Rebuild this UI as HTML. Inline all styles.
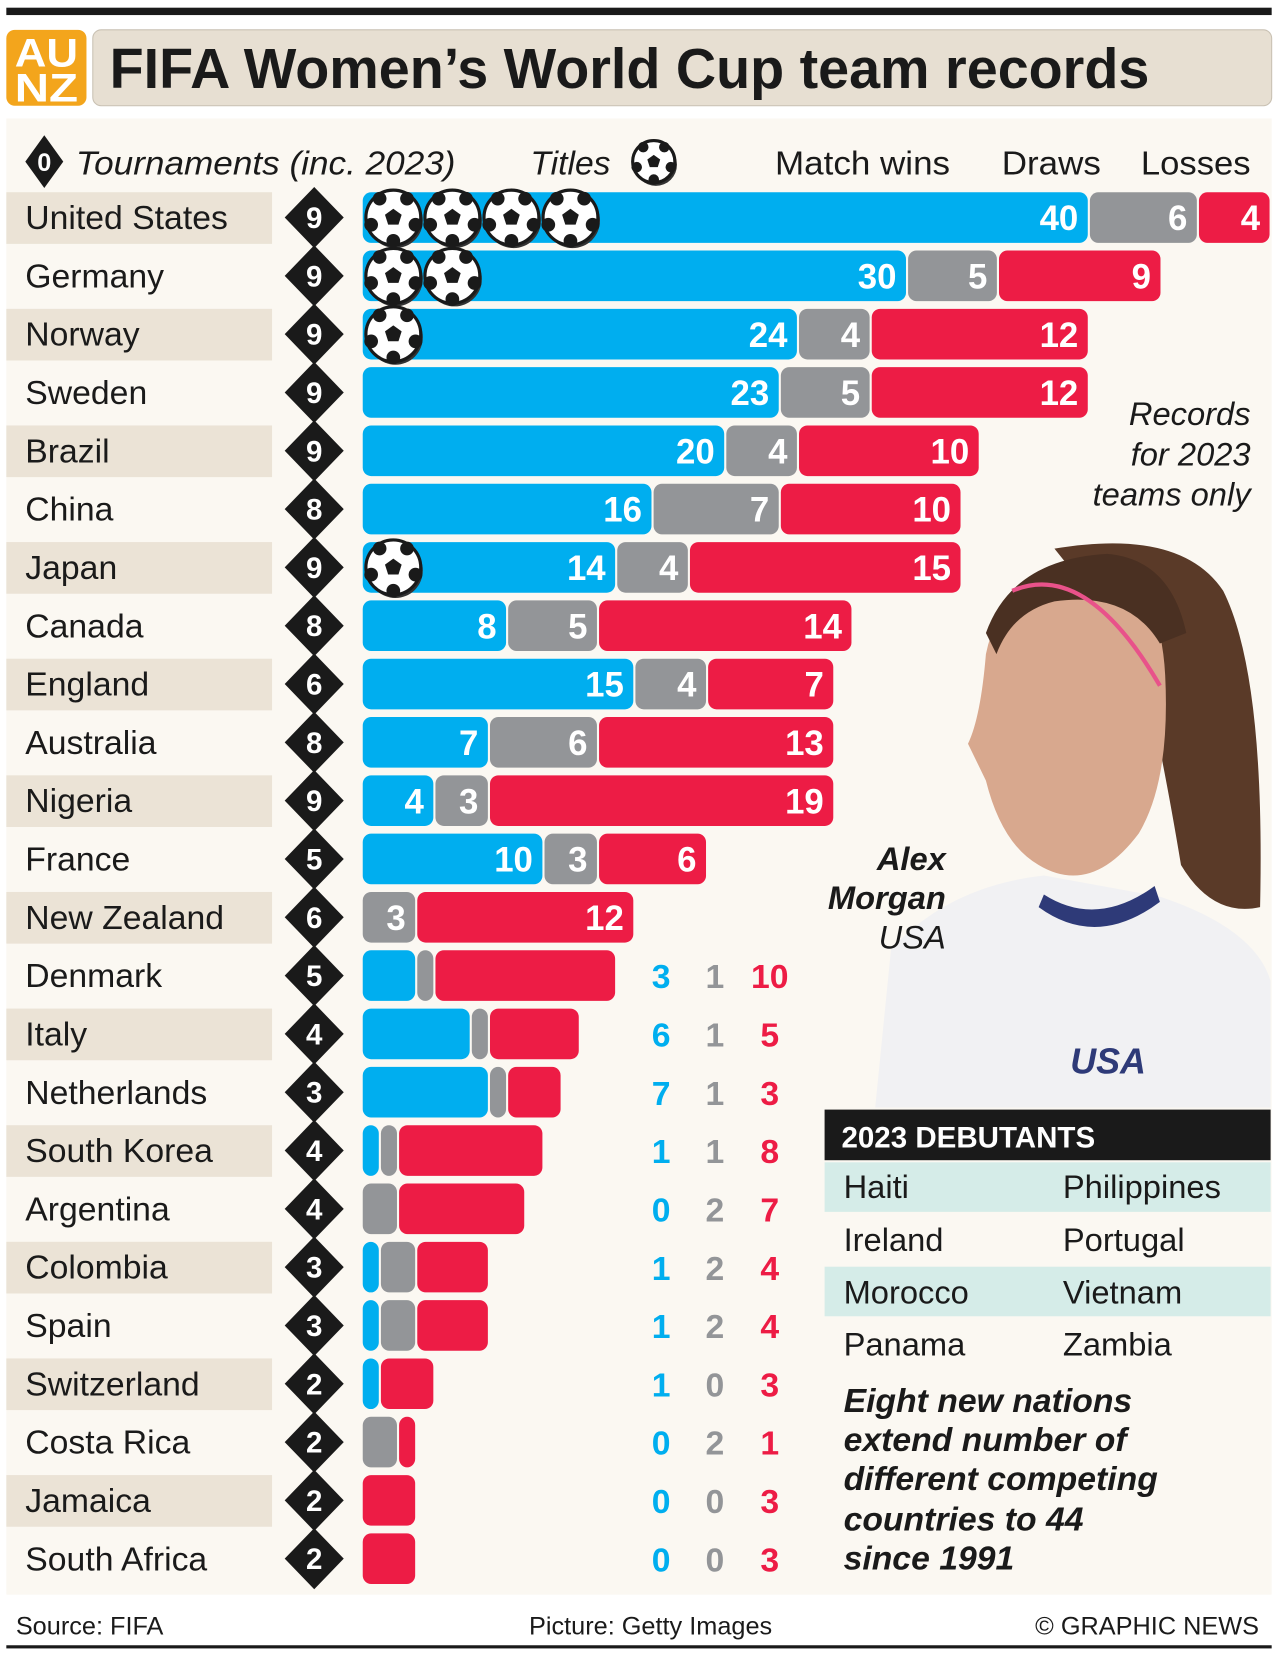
<!DOCTYPE html>
<html><head><meta charset="utf-8"><style>
html,body{margin:0;padding:0;background:#fff}
svg{display:block}
text{font-family:"Liberation Sans",sans-serif}
</style></head><body>
<svg id="chart" width="1278" height="1654" viewBox="0 0 1212 1568" xmlns="http://www.w3.org/2000/svg">
<rect x="6" y="7" width="1200" height="7" fill="#1a1a1a"/>
<rect x="6" y="112" width="1200" height="1400" fill="#fbf8f2"/>
<g>
<rect x="6" y="28" width="76" height="72" rx="8" fill="#f3a51c"/>
<text x="44" y="63" text-anchor="middle" font-size="38" font-weight="bold" fill="#fff" textLength="60" lengthAdjust="spacingAndGlyphs">AU</text>
<text x="44" y="96" text-anchor="middle" font-size="38" font-weight="bold" fill="#fff" textLength="60" lengthAdjust="spacingAndGlyphs">NZ</text>
</g>
<rect x="88" y="28" width="1118" height="72" rx="8" fill="#e7dfd2" stroke="#c9c1b3"/>
<text x="104" y="83" font-size="54" font-weight="bold" fill="#1a1a1a" textLength="986" lengthAdjust="spacingAndGlyphs">FIFA Women’s World Cup team records</text>
<g>
<path d="M42 128 L60 153 L42 178 L24 153 Z" fill="#1a1a1a"/>
<text x="42" y="162" text-anchor="middle" font-size="24" font-weight="bold" fill="#fff">0</text>
<text x="72" y="165" font-size="32" font-style="italic" fill="#1a1a1a" textLength="360" lengthAdjust="spacingAndGlyphs">Tournaments (inc. 2023)</text>
<text x="503" y="165" font-size="32" font-style="italic" fill="#1a1a1a" textLength="76" lengthAdjust="spacingAndGlyphs">Titles</text>
<text x="735" y="165" font-size="32" fill="#1a1a1a" textLength="166" lengthAdjust="spacingAndGlyphs">Match wins</text>
<text x="950" y="165" font-size="32" fill="#1a1a1a" textLength="94" lengthAdjust="spacingAndGlyphs">Draws</text>
<text x="1082" y="165" font-size="32" fill="#1a1a1a" textLength="104" lengthAdjust="spacingAndGlyphs">Losses</text>
</g>
<g id="photo">
<path d="M830 1050 L845 900 Q900 840 990 830 L1100 850 Q1190 880 1205 930 L1205 1050 Z" fill="#f1f1f3"/>
<path d="M985 860 Q1040 900 1100 855 L1095 840 Q1040 880 990 848 Z" fill="#2e3a78"/>
<path d="M1000 520 Q1120 500 1160 560 Q1200 640 1195 860 Q1150 870 1120 820 Q1100 700 1080 620 Z" fill="#5a3a28"/>
<path d="M935 620 Q950 545 1040 535 Q1100 545 1105 640 Q1110 740 1080 790 Q1035 850 985 820 Q950 800 935 740 L918 705 Q930 680 935 620 Z" fill="#d8a88e"/>
<path d="M935 600 Q960 530 1050 525 Q1110 530 1125 600 L1100 610 Q1070 560 1000 570 Q960 580 945 620 Z" fill="#4a3022"/>
<path d="M960 560 Q1030 530 1100 650" stroke="#e8528a" stroke-width="4" fill="none"/>
<text x="1015" y="1018" font-size="34" font-weight="bold" font-style="italic" fill="#2e3a78">USA</text>
</g>
<g>
<text x="897" y="825" text-anchor="end" font-size="31" font-weight="bold" font-style="italic" fill="#1a1a1a">Alex</text>
<text x="897" y="862" text-anchor="end" font-size="31" font-weight="bold" font-style="italic" fill="#1a1a1a">Morgan</text>
<text x="897" y="899" text-anchor="end" font-size="31" font-style="italic" fill="#1a1a1a">USA</text>
</g>
<g>
<text x="1186" y="403" text-anchor="end" font-size="31" font-style="italic" fill="#1a1a1a">Records</text>
<text x="1186" y="441" text-anchor="end" font-size="31" font-style="italic" fill="#1a1a1a">for 2023</text>
<text x="1186" y="479" text-anchor="end" font-size="31" font-style="italic" fill="#1a1a1a">teams only</text>
</g>
<g>
<rect x="782" y="1052" width="423" height="48" fill="#1a1a1a"/>
<text x="798" y="1088" font-size="28" font-weight="bold" fill="#fff">2023 DEBUTANTS</text>
<rect x="782" y="1102" width="423" height="47" fill="#d5ece8"/>
<rect x="782" y="1201" width="423" height="47" fill="#d5ece8"/>
<text x="800" y="1136" font-size="31" fill="#1a1a1a">Haiti</text><text x="1008" y="1136" font-size="31" fill="#1a1a1a">Philippines</text>
<text x="800" y="1186" font-size="31" fill="#1a1a1a">Ireland</text><text x="1008" y="1186" font-size="31" fill="#1a1a1a">Portugal</text>
<text x="800" y="1236" font-size="31" fill="#1a1a1a">Morocco</text><text x="1008" y="1236" font-size="31" fill="#1a1a1a">Vietnam</text>
<text x="800" y="1285" font-size="31" fill="#1a1a1a">Panama</text><text x="1008" y="1285" font-size="31" fill="#1a1a1a">Zambia</text>
</g>
<g font-size="32" font-weight="bold" font-style="italic" fill="#1a1a1a">
<text x="800" y="1339">Eight new nations</text>
<text x="800" y="1376">extend number of</text>
<text x="800" y="1413">different competing</text>
<text x="800" y="1451">countries to 44</text>
<text x="800" y="1488">since 1991</text>
</g>
<g id="rows"></g>
<text x="15" y="1550" font-size="24" fill="#1a1a1a">Source: FIFA</text>
<text x="617" y="1550" text-anchor="middle" font-size="24" fill="#1a1a1a">Picture: Getty Images</text>
<text x="1194" y="1550" text-anchor="end" font-size="24" fill="#1a1a1a">© GRAPHIC NEWS</text>
<rect x="6" y="1560" width="1200" height="3" fill="#1a1a1a"/>
</svg>
<script>
const countries=["United States","Germany","Norway","Sweden","Brazil","China","Japan","Canada","England","Australia","Nigeria","France","New Zealand","Denmark","Italy","Netherlands","South Korea","Argentina","Colombia","Spain","Switzerland","Costa Rica","Jamaica","South Africa"];
const wins=[40,30,24,23,20,16,14,8,15,7,4,10,0,3,6,7,1,0,1,1,1,0,0,0];
const draws=[6,5,4,5,4,7,4,5,4,6,3,3,3,1,1,1,1,2,2,2,0,2,0,0];
const losses=[4,9,12,12,10,10,15,14,7,13,19,6,12,10,5,3,8,7,4,4,3,1,3,3];
const tournaments=[9,9,9,9,9,8,9,8,6,8,9,5,6,5,4,3,4,4,3,3,2,2,2,2];
const titles=[4,2,1,0,0,0,1,0,0,0,0,0,0,0,0,0,0,0,0,0,0,0,0,0];
const NS="http://www.w3.org/2000/svg";
const g=document.getElementById('rows');
const x0=343, pxPerMatch=17.24, y0=206, rowStep=55.3, barH=48;
const xScale=v=>x0+v*pxPerMatch;
const yScale=i=>y0+i*rowStep;
const colors=["#00aeef","#939598","#ed1c45"];
function mk(tag,attrs,parent){const e=document.createElementNS(NS,tag);for(const k in attrs)e.setAttribute(k,attrs[k]);(parent||g).appendChild(e);return e;}
function ball(cx,cy,r,parent){
  const b=mk('g',{},parent);
  
  
  mk('circle',{cx:cx+2,cy:cy+3,r:r,fill:'#333'},b);
  mk('circle',{cx:cx,cy:cy,r:r,fill:'#fff',stroke:'#1a1a1a','stroke-width':3},b);
  const p=[];for(let k=0;k<5;k++){const a=-Math.PI/2+k*2*Math.PI/5;p.push((cx+r*0.32*Math.cos(a)).toFixed(1)+','+(cy+r*0.32*Math.sin(a)).toFixed(1));}
  mk('polygon',{points:p.join(' '),fill:'#1a1a1a'},b);
  for(let k=0;k<5;k++){const a=-Math.PI/2+k*2*Math.PI/5+Math.PI/5;mk('circle',{cx:cx+r*0.85*Math.cos(a),cy:cy+r*0.85*Math.sin(a),r:r*0.25,fill:'#1a1a1a'},b);}
}
ball(620,153,20,document.getElementById('chart'));
countries.forEach((c,i)=>{
  const cy=yScale(i);
  const row=mk('g',{});
  
  
  if(i%2===0){const bg=mk('rect',{x:6,y:cy-24,width:252,height:49,fill:'#ebe3d6'},row);
    
    }
  const t=mk('text',{x:24,y:cy+11,'font-size':32,fill:'#1a1a1a'},row);t.textContent=c;
  
  
  const d=mk('path',{d:`M298 ${cy-29} L326 ${cy} L298 ${cy+29} L270 ${cy} Z`,fill:'#1a1a1a'},row);
  
  
  const dt=mk('text',{x:298,y:cy+10,'text-anchor':'middle','font-size':28,'font-weight':'bold',fill:'#fff'},row);dt.textContent=tournaments[i];
  
  
  const vals=[wins[i],draws[i],losses[i]];
  const names=['wins-bar','draws-bar','losses-bar'];
  let acc=0;
  vals.forEach((v,k)=>{
    if(v<=0)return;
    const xa=xScale(acc), xb=xScale(acc+v);acc+=v;
    const r=mk('rect',{x:xa+1,y:cy-barH/2,width:Math.max(xb-xa-2,2),height:barH,rx:8,fill:colors[k]},row);
    
    
    if(i<13){const vt=mk('text',{x:xb-10,y:cy+12,'text-anchor':'end','font-size':33,'font-weight':'bold',fill:'#fff'},row);vt.textContent=v;
      
      }
  });
  if(i>=13){
    [627,678,730].forEach((x,k)=>{const vt=mk('text',{x:x,y:cy+12,'text-anchor':'middle','font-size':32,'font-weight':'bold',fill:colors[k]},row);vt.textContent=vals[k];
      
      });
  }
  for(let k=0;k<titles[i];k++)ball(373+56*k,cy,26,row);
});
</script>
</body></html>
